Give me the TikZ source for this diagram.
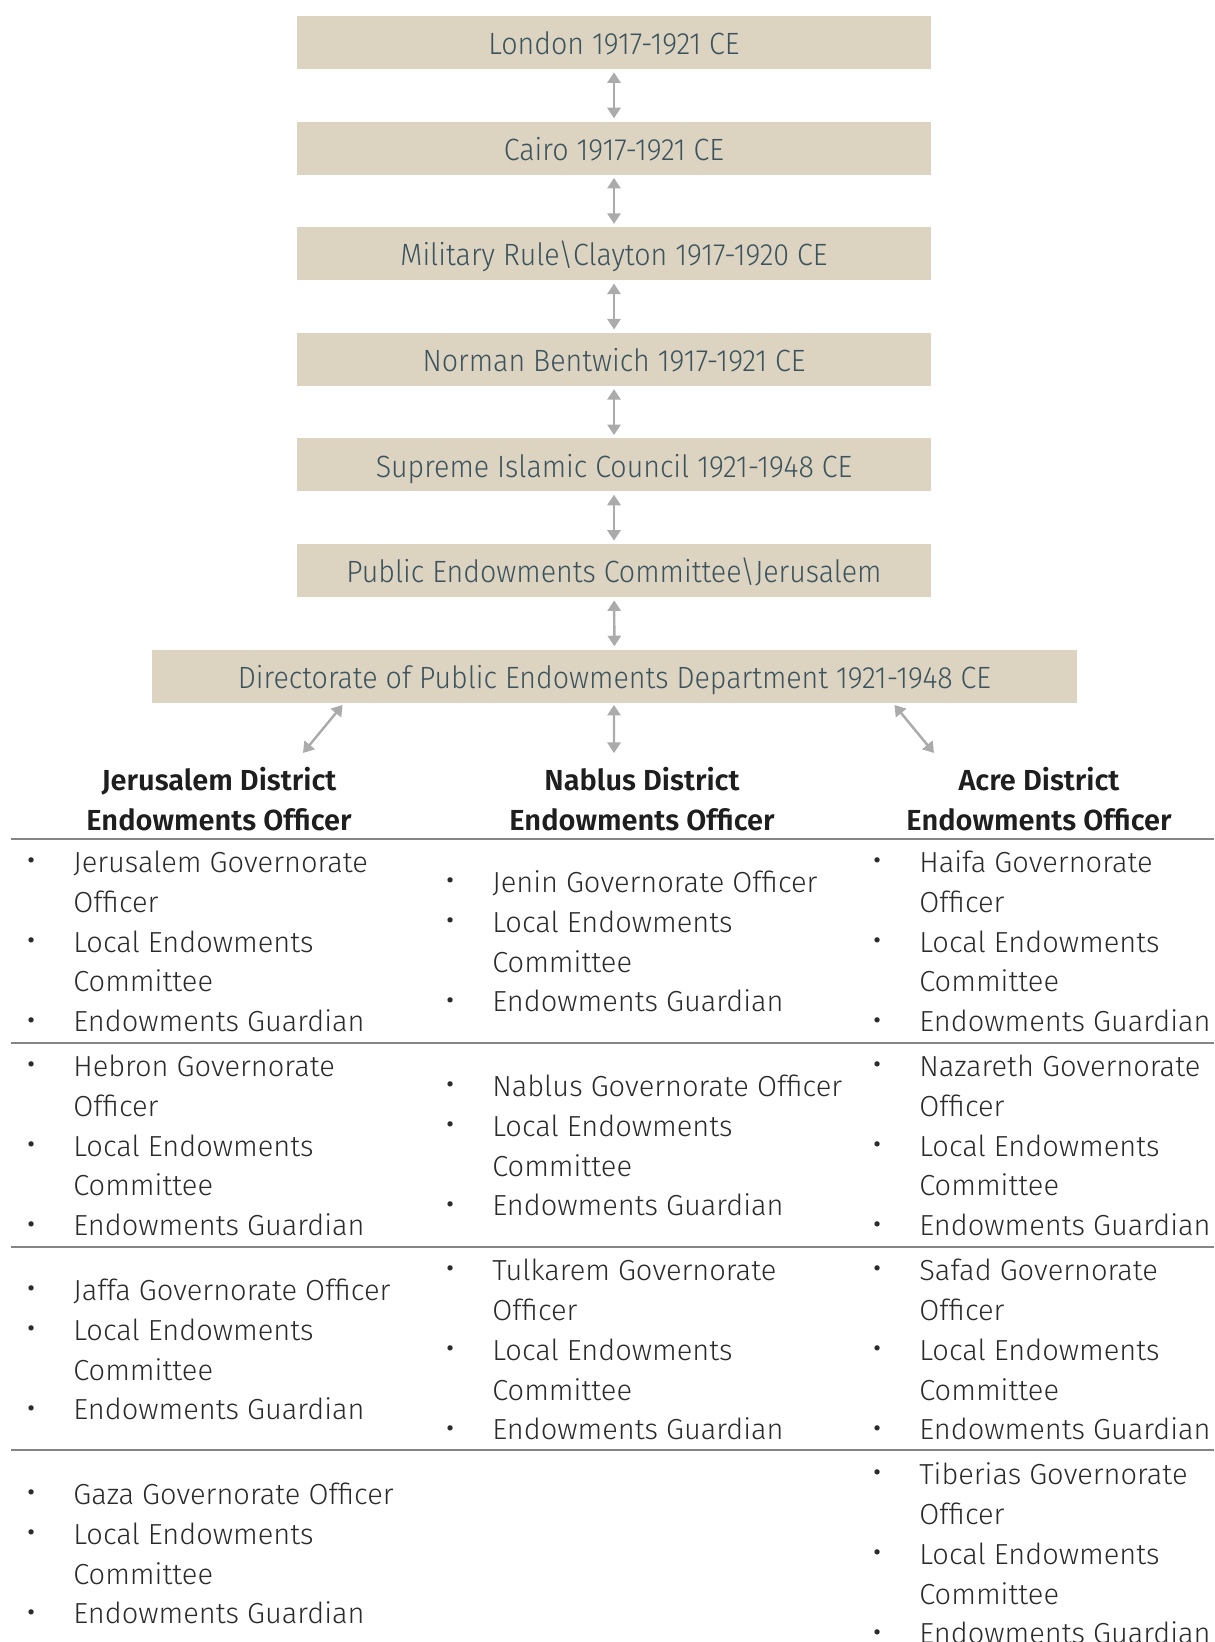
\documentclass[tikz,border=0pt]{standalone}
\usepackage{fontspec}
\setmainfont{Fira Sans Light}[BoldFont={Fira Sans SemiBold}]
\newfontfamily\boxfont{Fira Sans Light}[FakeStretch=0.93]
\usetikzlibrary{arrows.meta,positioning}
\definecolor{boxbeige}{HTML}{DDD3C1}
\definecolor{boxtext}{HTML}{3A535D}
\definecolor{linkgray}{HTML}{ABABAB}
\definecolor{rulegray}{HTML}{858585}
\definecolor{bodytext}{HTML}{2B2B2B}
\definecolor{headtext}{HTML}{1E1E1E}
\newcommand{\itemlist}[1]{\begin{tabular}{@{}p{0.94cm}@{}l@{}}#1\end{tabular}}
\newcommand{\dotmark}{\raisebox{-0.5pt}{\fontsize{20pt}{20pt}\selectfont\textbullet}}

\begin{document}
\begin{tikzpicture}[x=0.02cm, y=-0.02cm,
  stage/.style={fill=boxbeige, text=boxtext, font=\boxfont\fontsize{17.5pt}{20pt}\selectfont,
    minimum width=12.7cm, minimum height=1.06cm, inner sep=0pt, text height=14pt, text depth=0pt},
  link/.style={draw=linkgray, line width=1.4pt,
    {Triangle[width=7.5pt,length=6pt]}-{Triangle[width=7.5pt,length=6pt]}},
  head/.style={align=center, inner sep=0pt, text=headtext,
    font=\bfseries\fontsize{16.5pt}{22.76pt}\selectfont},
  cell/.style={anchor=west, inner sep=0pt, text=bodytext,
    font=\fontsize{16.5pt}{22.76pt}\selectfont},
  rule/.style={draw=rulegray, line width=1.1pt}]
	\useasboundingbox (0,0) rectangle (1214,1642);

	% chain of authority
	\node[stage] (london) at (614,42.5) {London 1917-1921 CE};
	\node[stage] (cairo) at (614,148.1) {Cairo 1917-1921 CE};
	\node[stage] (military) at (614,253.7) {Military Rule\textbackslash Clayton 1917-1920 CE};
	\node[stage] (bentwich) at (614,359.3) {Norman Bentwich 1917-1921 CE};
	\node[stage] (council) at (614,464.9) {Supreme Islamic Council 1921-1948 CE};
	\node[stage] (committee) at (614,570.5) {Public Endowments Committee\textbackslash Jerusalem};
	\node[stage, minimum width=18.52cm] (directorate) at (614.5,676.1) {Directorate of Public Endowments Department 1921-1948 CE};

	\draw[link, shorten <=1.7pt, shorten >=1.7pt] (london) -- (cairo);
	\draw[link, shorten <=1.7pt, shorten >=1.7pt] (cairo) -- (military);
	\draw[link, shorten <=1.7pt, shorten >=1.7pt] (military) -- (bentwich);
	\draw[link, shorten <=1.7pt, shorten >=1.7pt] (bentwich) -- (council);
	\draw[link, shorten <=1.7pt, shorten >=1.7pt] (council) -- (committee);
	\draw[link, shorten <=1.7pt, shorten >=1.7pt] (committee) -- (directorate);

	% districts
	\coordinate (jerend) at (303,753);
	\coordinate (nabend) at (614,753);
	\coordinate (acreend) at (934,753);
	\draw[link] ([xshift=-5.44cm,yshift=-0.04cm]directorate.south) -- (jerend);
	\draw[link] ([xshift=-0.01cm,yshift=-0.04cm]directorate.south) -- (nabend);
	\draw[link] ([xshift=5.6cm,yshift=-0.04cm]directorate.south) -- (acreend);

	\node[head] (jerhead) at (219,799) {Jerusalem District\\Endowments Officer};
	\node[head] (nabhead) at (642,799) {Nablus District\\Endowments Officer};
	\node[head] (acrehead) at (1039,799) {Acre District\\Endowments Officer};

	% table rules
	\draw[rule] (10.5,839) -- (1214,839);
	\draw[rule] (10.5,1043) -- (1214,1043);
	\draw[rule] (10.5,1247) -- (1214,1247);
	\draw[rule] (10.5,1450) -- (1214,1450);

	% first row
	\node[cell] (jerusalem) at (26,944) {\itemlist{\dotmark & Jerusalem Governorate\\ & Officer\\ \dotmark & Local Endowments\\ & Committee\\ \dotmark & Endowments Guardian}};
	\node[cell] (jenin) at (445,944) {\itemlist{\dotmark & Jenin Governorate Officer\\ \dotmark & Local Endowments\\ & Committee\\ \dotmark & Endowments Guardian}};
	\node[cell] (haifa) at (872,944) {\itemlist{\dotmark & Haifa Governorate\\ & Officer\\ \dotmark & Local Endowments\\ & Committee\\ \dotmark & Endowments Guardian}};

	% second row
	\node[cell] (hebron) at (26,1148) {\itemlist{\dotmark & Hebron Governorate\\ & Officer\\ \dotmark & Local Endowments\\ & Committee\\ \dotmark & Endowments Guardian}};
	\node[cell] (nablus) at (445,1148) {\itemlist{\dotmark & Nablus Governorate Officer\\ \dotmark & Local Endowments\\ & Committee\\ \dotmark & Endowments Guardian}};
	\node[cell] (nazareth) at (872,1148) {\itemlist{\dotmark & Nazareth Governorate\\ & Officer\\ \dotmark & Local Endowments\\ & Committee\\ \dotmark & Endowments Guardian}};

	% third row
	\node[cell] (jaffa) at (26,1352) {\itemlist{\dotmark & Jaffa Governorate Officer\\ \dotmark & Local Endowments\\ & Committee\\ \dotmark & Endowments Guardian}};
	\node[cell] (tulkarem) at (445,1352) {\itemlist{\dotmark & Tulkarem Governorate\\ & Officer\\ \dotmark & Local Endowments\\ & Committee\\ \dotmark & Endowments Guardian}};
	\node[cell] (safad) at (872,1352) {\itemlist{\dotmark & Safad Governorate\\ & Officer\\ \dotmark & Local Endowments\\ & Committee\\ \dotmark & Endowments Guardian}};

	% fourth row
	\node[cell] (gaza) at (26,1556) {\itemlist{\dotmark & Gaza Governorate Officer\\ \dotmark & Local Endowments\\ & Committee\\ \dotmark & Endowments Guardian}};
	\node[cell] (tiberias) at (872,1556) {\itemlist{\dotmark & Tiberias Governorate\\ & Officer\\ \dotmark & Local Endowments\\ & Committee\\ \dotmark & Endowments Guardian}};
\end{tikzpicture}
\end{document}
